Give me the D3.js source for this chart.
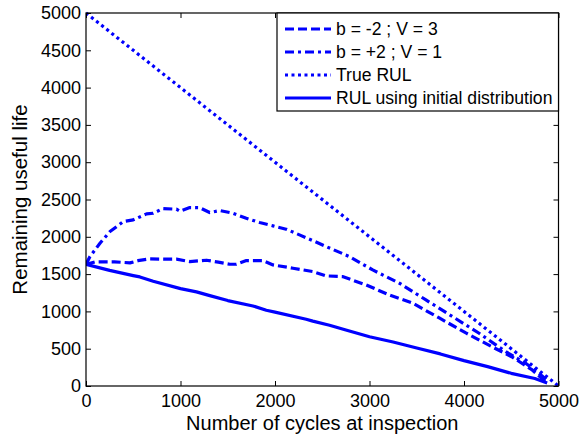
<!DOCTYPE html>
<html><head><meta charset="utf-8">
<script src="https://cdn.jsdelivr.net/npm/d3@7"></script>
<style>body{margin:0;background:#fff}svg{display:block}text{font-family:"Liberation Sans",Arial,sans-serif;fill:#000}</style>
</head><body><svg id="c" width="582" height="437"></svg>
<script>
const xTicks = [0, 1000, 2000, 3000, 4000, 5000];
const yTicks = [0, 500, 1000, 1500, 2000, 2500, 3000, 3500, 4000, 4500, 5000];
const legendLabels = ["b = -2 ; V = 3", "b = +2 ; V = 1", "True RUL", "RUL using initial distribution"];

const dashX = [0, 100, 300, 465, 550, 676, 850, 957, 1098, 1274, 1400, 1521, 1591, 1697, 1873, 1979, 2190, 2401, 2542, 2714, 2964, 3210, 3453, 3738, 4020, 4300, 4510, 4722, 4870];
const dashY = [1630, 1665, 1665, 1650, 1680, 1704, 1700, 1700, 1668, 1686, 1660, 1632, 1632, 1681, 1681, 1623, 1579, 1534, 1476, 1467, 1355, 1220, 1113, 912, 711, 523, 389, 215, 50];

const ddX = [0, 42, 148, 254, 394, 500, 641, 711, 816, 957, 993, 1098, 1204, 1309, 1415, 1555, 1696, 1837, 1978, 2118, 2259, 2400, 2541, 2788, 3034, 3316, 3597, 3879, 4160, 4442, 4653, 4794, 4900];
const ddY = [1630, 1735, 1914, 2070, 2204, 2227, 2307, 2316, 2379, 2370, 2343, 2392, 2390, 2325, 2352, 2316, 2249, 2191, 2147, 2102, 2026, 1949, 1869, 1735, 1556, 1378, 1154, 930, 707, 460, 304, 170, 58];

const trueX = [0, 5000];
const trueY = [5000, 0];

const solidX = [0, 250, 500, 570, 711, 1000, 1169, 1310, 1500, 1767, 1908, 2000, 2330, 2400, 2577, 2750, 3000, 3250, 3500, 3750, 4000, 4250, 4500, 4750, 4880];
const solidY = [1630, 1550, 1480, 1462, 1405, 1305, 1262, 1212, 1145, 1073, 1015, 990, 895, 870, 815, 750, 660, 590, 510, 430, 340, 260, 170, 100, 40];

const L = 86, R = 558.5, T = 13, B = 386;
const svg = d3.select("#c");
const x = d3.scaleLinear().domain([0, 5000]).range([L, R]);
const y = d3.scaleLinear().domain([0, 5000]).range([B, T]);

const series = [
  {xs: dashX, ys: dashY, dash: "9,4"},
  {xs: ddX, ys: ddY, dash: "9,4,3,4"},
  {xs: trueX, ys: trueY, dash: "3,3.5"},
  {xs: solidX, ys: solidY, dash: null}
];

const line = d3.line().x(d => x(d[0])).y(d => y(d[1]));
svg.append("defs").append("clipPath").attr("id","clip").append("rect")
  .attr("x", L).attr("y", T - 3).attr("width", R - L + 4).attr("height", B - T + 6);

const g = svg.append("g").attr("clip-path", "url(#clip)");
series.forEach(s => {
  const pts = s.xs.map((v, i) => [v, s.ys[i]]);
  g.append("path").attr("d", line(pts)).attr("fill", "none").attr("stroke", "#0000ff")
    .attr("stroke-width", 3.2).attr("stroke-linejoin", "round")
    .attr("stroke-dasharray", s.dash);
});

// axes
const ax = svg.append("g");
ax.append("g").attr("transform", `translate(0,${B})`)
  .call(d3.axisBottom(x).tickValues(xTicks).tickSizeInner(-5).tickSizeOuter(0).tickPadding(8).tickFormat(d3.format("d")))
  .call(a => { a.select(".domain").remove(); a.selectAll("text").style("font-size","18px").attr("fill","#000"); });
ax.append("g").attr("transform", `translate(0,${T})`)
  .call(d3.axisTop(x).tickValues(xTicks).tickSizeInner(-5).tickSizeOuter(0).tickFormat(""))
  .call(a => a.select(".domain").remove());
ax.append("g").attr("transform", `translate(${L},0)`)
  .call(d3.axisLeft(y).tickValues(yTicks).tickSizeInner(-5).tickSizeOuter(0).tickPadding(5).tickFormat(d3.format("d")))
  .call(a => { a.select(".domain").remove(); a.selectAll("text").style("font-size","18px").attr("fill","#000"); });
ax.append("g").attr("transform", `translate(${R},0)`)
  .call(d3.axisRight(y).tickValues(yTicks).tickSizeInner(-5).tickSizeOuter(0).tickFormat(""))
  .call(a => a.select(".domain").remove());
ax.selectAll(".tick line").attr("stroke", "#000");
svg.append("rect").attr("x", L).attr("y", T).attr("width", R - L).attr("height", B - T)
  .attr("fill", "none").attr("stroke", "#000").attr("stroke-width", 1.2);

// labels
svg.append("text").attr("x", (L + R) / 2).attr("y", 430).attr("text-anchor", "middle")
  .style("font-size", "20px").text("Number of cycles at inspection");
svg.append("text").attr("transform", `translate(27,${(T + B) / 2}) rotate(-90)`).attr("text-anchor", "middle")
  .style("font-size", "20.5px").text("Remaining useful life");

// legend
const lg = svg.append("g");
lg.append("rect").attr("x", 277).attr("y", T).attr("width", R - 277).attr("height", 98)
  .attr("fill", "#fff").attr("stroke", "#000").attr("stroke-width", 1.2);
const rowsY = [29, 52, 75, 98];
series.forEach((s, i) => {
  lg.append("line").attr("x1", 285).attr("x2", 331).attr("y1", rowsY[i]).attr("y2", rowsY[i])
    .attr("stroke", "#0000ff").attr("stroke-width", 3.2).attr("stroke-dasharray", s.dash);
  lg.append("text").attr("x", 336).attr("y", rowsY[i] + 6).style("font-size", "17.6px").text(legendLabels[i]);
});
</script></body></html>
